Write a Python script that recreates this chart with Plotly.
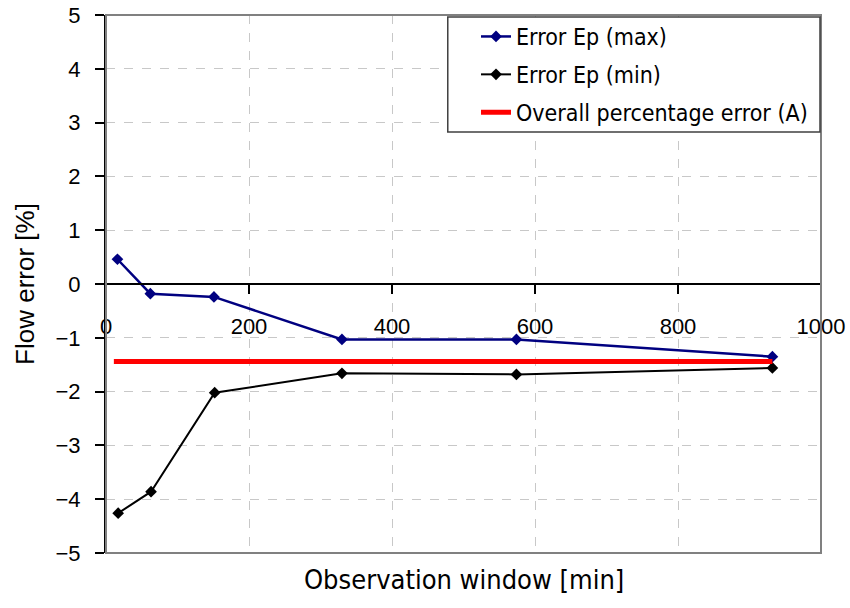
import plotly.graph_objects as go

window_max = [16, 62, 151, 330, 574, 932]
err_max = [0.46, -0.18, -0.24, -1.03, -1.03, -1.35]
window_min = [17, 63, 152, 330, 574, 932]
err_min = [-4.26, -3.86, -2.02, -1.66, -1.68, -1.56]
overall_x = [11, 932]
overall_y = [-1.44, -1.44]

fig = go.Figure()
fig.add_trace(go.Scatter(x=window_max, y=err_max, mode="lines+markers",
                         name="Error Ep (max)", legendgroup="a",
                         line=dict(color="#000080", width=2.5),
                         marker=dict(symbol="diamond", size=9, color="#000080")))
fig.add_trace(go.Scatter(x=window_min, y=err_min, mode="lines+markers",
                         name="Error Ep (min)", legendgroup="b",
                         line=dict(color="#000000", width=2),
                         marker=dict(symbol="diamond", size=9, color="#000000")))
fig.add_trace(go.Scatter(x=overall_x, y=overall_y, mode="lines",
                         name="Overall percentage error (A)", legendgroup="c",
                         line=dict(color="#ff0000", width=5)))

fig.update_layout(
    width=850, height=608,
    margin=dict(l=106, r=29, t=15, b=55),
    paper_bgcolor="white", plot_bgcolor="white",
    font=dict(family="Liberation Sans, Arial, sans-serif", color="black"),
    showlegend=True,
    legend=dict(x=0.5175, y=1.0, xanchor="left", yanchor="top",
                bgcolor="rgba(0,0,0,0)", borderwidth=0,
                font=dict(family="DejaVu Sans Condensed, DejaVu Sans", size=23, color="black"),
                itemwidth=30, traceorder="grouped", tracegroupgap=5),
    xaxis=dict(range=[0, 1000], dtick=200, tick0=0, automargin=False,
               showgrid=True, gridcolor="#c8c8c8", griddash="dash", gridwidth=1,
               anchor="free", position=0.5,
               showline=True, linecolor="black", linewidth=2,
               ticks="outside", ticklen=9, tickwidth=2, tickcolor="black",
               ticklabelstandoff=14, ticklabeloverflow="allow",
               tickfont=dict(size=22), zeroline=False),
    yaxis=dict(range=[-5, 5], dtick=1, automargin=False,
               showgrid=True, gridcolor="#c8c8c8", griddash="dash", gridwidth=1,
               showline=True, linecolor="black", linewidth=2,
               ticks="outside", ticklen=9, tickwidth=2, tickcolor="black",
               ticklabelstandoff=10, ticklabeloverflow="allow",
               tickfont=dict(size=22), zeroline=False,
               title=dict(text="Flow error [%]", font=dict(size=26), standoff=13)),
    shapes=[dict(type="rect", xref="paper", yref="paper", x0=0, x1=1, y0=0, y1=1,
                 line=dict(color="#808080", width=2), layer="above"),
            dict(type="rect", xref="paper", yref="paper", x0=0.478, x1=0.9986,
                 y0=0.7825, y1=0.9963, fillcolor="white",
                 line=dict(color="#404040", width=1.5), layer="above")],
    annotations=[dict(text="Observation window [min]", xref="paper", yref="paper",
                      x=0.5, y=-0.05, xanchor="center", yanchor="middle",
                      showarrow=False,
                      font=dict(family="DejaVu Sans Condensed, DejaVu Sans", size=27))],
)

fig.write_html("out.html", config={"displayModeBar": False},
               post_script="document.body.style.margin='0';")
